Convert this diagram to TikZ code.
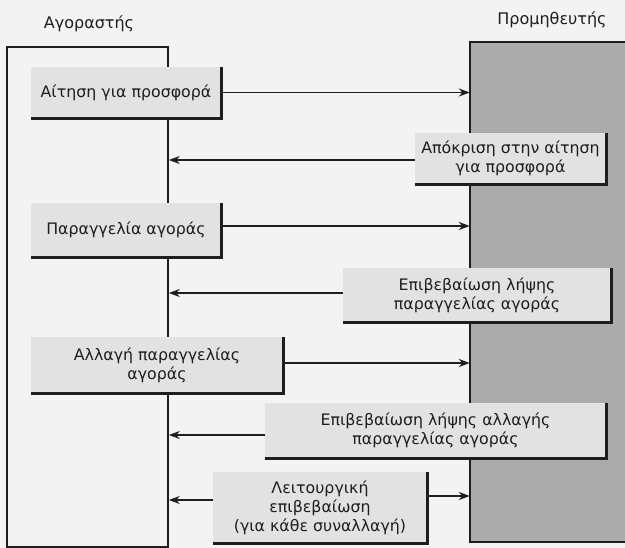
\documentclass[tikz,border=0pt]{standalone}
\usepackage{fontspec}
\setmainfont{DejaVu Sans}
\usetikzlibrary{arrows.meta}
\definecolor{bgc}{HTML}{F3F3F3}
\definecolor{msgfill}{HTML}{E2E2E2}
\definecolor{supfill}{HTML}{ABABAB}
\definecolor{ink}{HTML}{1E1E1E}
\tikzset{
  msg/.style={fill=msgfill, inner sep=0pt, align=center, font=\fontsize{15.8}{19}\selectfont, text=ink},
  shadowline/.style={draw=ink, line width=2.8pt},
  arr/.style={draw=ink, line width=1.6pt, -{Stealth[length=11pt,width=8pt]}},
  frame/.style={draw=ink, line width=1.6pt},
  head/.style={font=\fontsize{16}{18}\selectfont, text=ink}
}
\begin{document}
\begin{tikzpicture}[x=1pt,y=-1pt]
\useasboundingbox (0,0) rectangle (625,548);
\fill[bgc] (0,0) rectangle (625,548);
% headers
\node[head] (hbuy) at (89,24) {Αγοραστής};
\node[head] (hsup) at (552,20) {Προμηθευτής};
% buyer frame
\node[frame, minimum width=161pt, minimum height=500pt, inner sep=0pt] (buy) at (87.5,297) {};
% supplier block
\node[fill=supfill, minimum width=155pt, minimum height=500pt, inner sep=0pt] (sup) at (547.5,292) {};
\draw[frame] (sup.north east) -- (sup.north west) -- (sup.south west) -- (sup.south east);
% message boxes
\node[msg, minimum width=190pt, minimum height=51pt] (b1) at (126,92.5) {Αίτηση για προσφορά};
\node[msg, minimum width=191pt, minimum height=51pt] (b2) at (510.5,158.5) {Απόκριση στην αίτηση\\για προσφορά};
\node[msg, minimum width=190pt, minimum height=54pt] (b3) at (126,230) {Παραγγελία αγοράς};
\node[msg, minimum width=268pt, minimum height=54pt] (b4) at (477,295) {Επιβεβαίωση λήψης\\παραγγελίας αγοράς};
\node[msg, minimum width=252pt, minimum height=56pt] (b5) at (157,365) {Αλλαγή παραγγελίας\\αγοράς};
\node[msg, minimum width=341pt, minimum height=55pt] (b6) at (435.5,430.5) {Επιβεβαίωση λήψης αλλαγής\\παραγγελίας αγοράς};
\node[msg, minimum width=214pt, minimum height=71pt] (b7) at (320,507.5) {Λειτουργική\\επιβεβαίωση\\(για κάθε συναλλαγή)};
\foreach \b in {b1,b2,b3,b4,b5,b6,b7}{
  \draw[shadowline] (\b.north east) -- (\b.south east) -- (\b.south west);
}
% arrows
\draw[arr] (b1.east) -- (b1.east -| sup.west);
\draw[arr] ([yshift=-1.5pt]b2.west) -- ([yshift=-1.5pt]b2.west -| buy.east);
\draw[arr] ([yshift=4pt]b3.east) -- ([yshift=4pt]b3.east -| sup.west);
\draw[arr] ([yshift=2pt]b4.west) -- ([yshift=2pt]b4.west -| buy.east);
\draw[arr] ([yshift=2pt]b5.east) -- ([yshift=2pt]b5.east -| sup.west);
\draw[arr] ([yshift=-4.5pt]b6.west) -- ([yshift=-4.5pt]b6.west -| buy.east);
\draw[arr] ([yshift=7.5pt]b7.west) -- ([yshift=7.5pt]b7.west -| buy.east);
\draw[arr] ([yshift=11.5pt]b7.east) -- ([yshift=11.5pt]b7.east -| sup.west);
\end{tikzpicture}
\end{document}
